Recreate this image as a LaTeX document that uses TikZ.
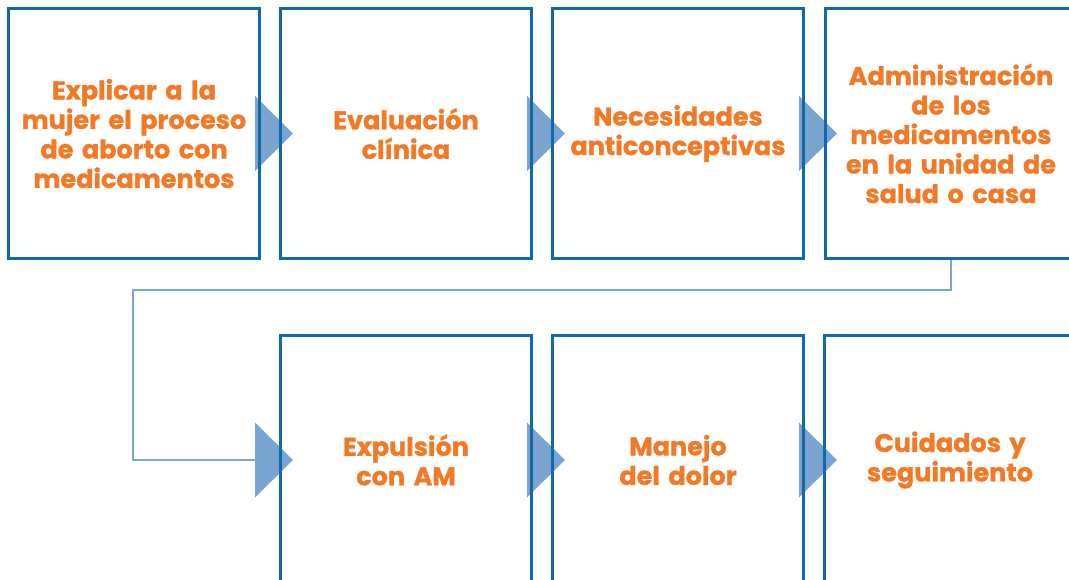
\documentclass[tikz,border=0pt]{standalone}
\usepackage{fontspec}
\setmainfont{Poppins}[BoldFont={Poppins Bold},BoldFeatures={FakeBold=1.2}]
\usetikzlibrary{backgrounds,calc}
\definecolor{boxblue}{RGB}{18,104,172}
\definecolor{triblue}{RGB}{120,164,207}
\definecolor{lineblue}{RGB}{125,166,211}
\definecolor{txtorange}{RGB}{242,122,38}
\tikzset{
  stepbox/.style={draw=boxblue, line width=3pt, minimum width=251pt, minimum height=250pt,
    text width=248pt, align=center, inner sep=0pt, text=txtorange,
    font=\fontsize{25.5}{29.5}\selectfont\bfseries},
  tri/.style={fill=triblue, draw=none},
  conn/.style={draw=lineblue, line width=2.8pt}
}
% #1 node, #2 anchor, #3 horizontal offset of the triangle base from the anchor
\newcommand{\tri}[3]{\fill[tri] ($(#1.#2)+(#3pt,37.5pt)$) -- ++(38pt,-37.5pt) -- ++(-38pt,-37.5pt) -- cycle;}
\begin{document}
\begin{tikzpicture}[x=1pt,y=-1pt]
\useasboundingbox (0,0) rectangle (1069,579);
\node[stepbox] (b1) at (134,133.5) {Explicar a la\\ mujer el proceso\\ de aborto con\\ medicamentos};
\node[stepbox] (b2) at (406,133.5) {Evaluación\\ clínica};
\node[stepbox] (b3) at (678,133.5) {Necesidades\\ anticonceptivas};
\node[stepbox] (b4) at (951,133.5) {Administración\\ de los\\ medicamentos\\ en la unidad de\\ salud o casa};
\node[stepbox] (b5) at (406,460) {Expulsión\\ con AM};
\node[stepbox] (b6) at (678,460) {Manejo\\ del dolor};
\node[stepbox] (b7) at (950,460) {Cuidados y\\ seguimiento};
\coordinate (k1) at (133,290);
\coordinate (k2) at (133,460);
\coordinate (k3) at ($(b5.west)+(-24,0)$);
\begin{pgfonlayer}{background}
\tri{b1}{east}{-6}
\tri{b2}{east}{-6}
\tri{b3}{east}{-6}
\draw[conn] (b4.south) |- (k1) -- (k2) -- (k3);
\tri{b5}{west}{-24}
\tri{b5}{east}{-6}
\tri{b6}{east}{-6}
\end{pgfonlayer}
\end{tikzpicture}
\end{document}
